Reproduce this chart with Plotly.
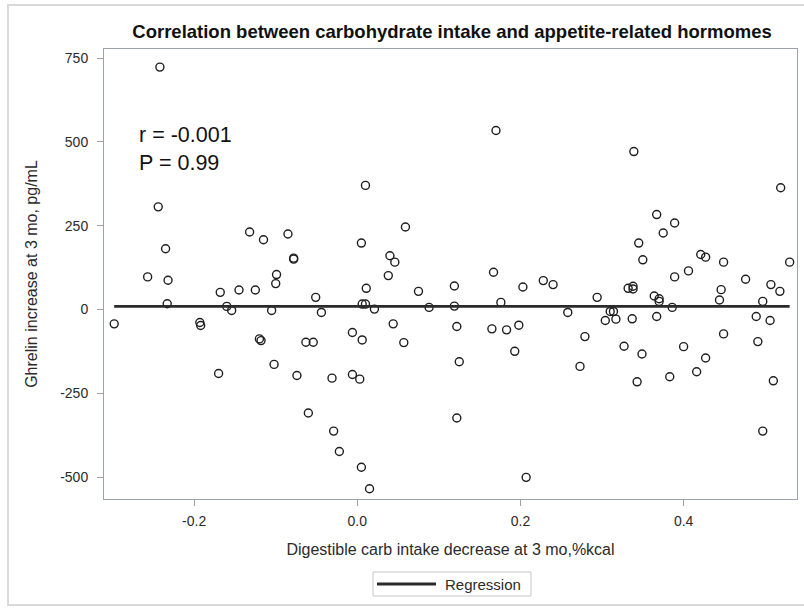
import plotly.graph_objects as go

# Digestible carb intake decrease at 3 mo (%kcal) and ghrelin increase (pg/mL)
carb_decrease = [
    -0.242, -0.244, -0.132, -0.115, -0.235, -0.257, -0.232, -0.099, -0.085, -0.168,
    -0.145, -0.125, -0.100, -0.233, -0.160, -0.154, -0.105, -0.298, -0.193, -0.192,
    -0.120, -0.118, -0.102, -0.170,
    0.010, 0.059, 0.005, -0.078, -0.078, 0.040, 0.046, 0.038, 0.011, -0.051,
    0.075, 0.119, 0.006, 0.010, 0.021, -0.044, 0.088, 0.119, 0.044, 0.122,
    -0.006, 0.006, -0.063, -0.054, 0.057, 0.125, -0.074, -0.031, -0.006, 0.003,
    -0.060, 0.122, -0.029, -0.022, 0.005, 0.015,
    0.170, 0.167, 0.228, 0.203, 0.240, 0.294, 0.176, 0.258, 0.310, 0.314,
    0.304, 0.317, 0.165, 0.183, 0.198, 0.279, 0.327, 0.193, 0.273, 0.207,
    0.339, 0.519, 0.367, 0.389, 0.375, 0.345, 0.350, 0.421, 0.427, 0.449,
    0.530, 0.389, 0.406, 0.476, 0.507, 0.518, 0.332, 0.338, 0.338, 0.364,
    0.370, 0.370, 0.386, 0.446, 0.444, 0.497, 0.337, 0.367, 0.489, 0.506,
    0.449, 0.349, 0.400, 0.427, 0.491, 0.343, 0.383, 0.416, 0.510, 0.497,
]
ghrelin_increase = [
    723, 306, 231, 208, 181, 97, 87, 104, 225, 51,
    58, 58, 77, 17, 9, -3, -3, -43, -39, -48,
    -88, -93, -164, -191,
    370, 246, 198, 153, 150, 160, 141, 101, 63, 36,
    54, 70, 16, 16, 1, -9, 6, 10, -43, -51,
    -69, -91, -98, -98, -99, -156, -197, -205, -194, -208,
    -309, -324, -363, -424, -471, -535,
    534, 111, 86, 67, 74, 36, 21, -9, -6, -6,
    -33, -29, -58, -61, -47, -81, -110, -125, -170, -501,
    471, 363, 283, 258, 228, 198, 148, 164, 156, 141,
    141, 97, 115, 90, 74, 54, 63, 69, 61, 40,
    32, 24, 6, 59, 28, 24, -28, -21, -21, -33,
    -73, -133, -111, -145, -96, -216, -201, -186, -213, -363,
]

# Fitted regression (r = -0.001, essentially flat)
reg_intercept = 9.0
reg_slope = 0.0
stat_text = ["r = -0.001", "P = 0.99"]

x_ticks = [-0.2, 0.0, 0.2, 0.4]
x_ticktext = ["-0.2", "0.0", "0.2", "0.4"]
y_ticks = [750, 500, 250, 0, -250, -500]
y_ticktext = ["750", "500", "250", "0", "-250", "-500"]

FONT = "Liberation Sans, Arial, sans-serif"
INK = "#2b2b2b"
LINE_COLOR = "#2a2a2a"

# plot area geometry (pixels) used to place the hand-drawn legend box
L, R, T, B = 104, 7, 49, 109
PW, PH = 804 - L - R, 608 - T - B


def px_x(p):
    return (p - L) / PW


def px_y(p):
    return (608 - B - p) / PH


fig = go.Figure()

fig.add_trace(go.Scatter(
    x=carb_decrease, y=ghrelin_increase, mode="markers",
    marker=dict(symbol="circle-open", size=8, color="#1e1e1e", line=dict(width=1.4)),
    showlegend=False, hoverinfo="x+y",
))

xmin, xmax = min(carb_decrease), max(carb_decrease)
fig.add_trace(go.Scatter(
    x=[xmin, xmax],
    y=[reg_intercept + reg_slope * xmin, reg_intercept + reg_slope * xmax],
    mode="lines", name="Regression", showlegend=False,
    line=dict(color=LINE_COLOR, width=2.8),
))

fig.add_annotation(
    x=px_x(137), y=px_y(149), xref="paper", yref="paper", xanchor="left", yanchor="middle",
    text="<br>".join(stat_text), showarrow=False, align="left",
    font=dict(family=FONT, size=21.5, color="#111"),
)

# legend (drawn as box + line sample + label)
fig.add_shape(type="rect", xref="paper", yref="paper",
              x0=px_x(373), x1=px_x(531), y0=px_y(596), y1=px_y(572),
              line=dict(color="#c8c8c8", width=1), fillcolor="white")
fig.add_shape(type="line", xref="paper", yref="paper",
              x0=px_x(377), x1=px_x(436), y0=px_y(584), y1=px_y(584),
              line=dict(color=LINE_COLOR, width=2.8))
fig.add_annotation(x=px_x(443), y=px_y(584), xref="paper", yref="paper",
                   xanchor="left", yanchor="middle", text="Regression", showarrow=False,
                   font=dict(family=FONT, size=15, color=INK))

# outer light frame around the whole graphic
fig.add_shape(type="rect", xref="paper", yref="paper",
              x0=px_x(8), x1=px_x(830), y0=px_y(605), y1=px_y(5),
              line=dict(color="#d9d9d9", width=2), fillcolor="rgba(0,0,0,0)", layer="below")

fig.update_layout(
    width=804, height=608,
    margin=dict(l=L, r=R, t=T, b=B),
    paper_bgcolor="white", plot_bgcolor="white",
    font=dict(family=FONT, size=14, color=INK),
    showlegend=False,
    title=dict(text="<b>Correlation between carbohydrate intake and appetite-related hormomes</b>",
               x=452 / 804, xanchor="center", y=1 - 32 / 608, yanchor="middle",
               font=dict(family=FONT, size=18.5, color="#111")),
    xaxis=dict(
        range=[-0.3105, 0.539], tickvals=x_ticks, ticktext=x_ticktext,
        showgrid=False, zeroline=False,
        showline=True, mirror=True, linecolor="#9aa3ad", linewidth=1,
        ticks="outside", ticklen=6, tickcolor="#9aa3ad", ticklabelstandoff=3,
        tickfont=dict(size=14, color=INK),
        title=dict(text="Digestible carb intake decrease at 3 mo,%kcal", standoff=16,
                   font=dict(size=16, color=INK)),
    ),
    yaxis=dict(
        range=[-565.6, 777], tickvals=y_ticks, ticktext=y_ticktext,
        showgrid=False, zeroline=False,
        showline=True, mirror=True, linecolor="#9aa3ad", linewidth=1,
        ticks="outside", ticklen=6, tickcolor="#9aa3ad", ticklabelstandoff=6,
        tickfont=dict(size=14, color=INK),
        title=dict(text="Ghrelin increase at 3 mo, pg/mL", standoff=18,
                   font=dict(size=16, color=INK)),
    ),
)

fig.write_html("out.html")
